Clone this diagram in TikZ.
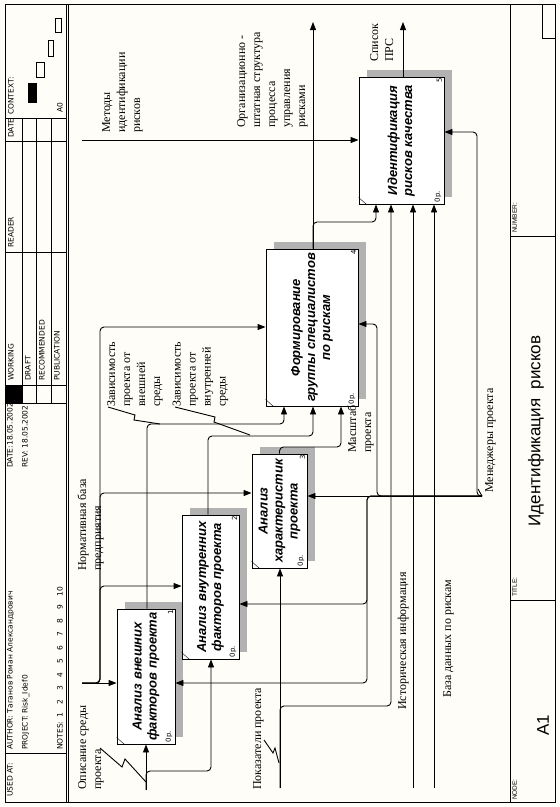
\documentclass[tikz,border=0pt]{standalone}
\usepackage{fontspec}
\setmainfont{Liberation Serif}
\newfontfamily\hdrfont{DejaVu Sans}
\newfontfamily\boxfont{Liberation Sans}
\usepackage{tikz}
\usetikzlibrary{arrows.meta,shadows}
\definecolor{Paper}{HTML}{FFFDF8}
\definecolor{Hatch}{HTML}{B2B2B2}
\newcommand{\rt}[2][l]{\rotatebox{90}{\begin{tabular}{@{}#1@{}}#2\end{tabular}}}
\newcommand{\gap}{\hspace{8.7pt}}

\begin{document}
\begin{tikzpicture}[x=1pt, y=-1pt,
  func/.style={draw, line width=0.9pt, fill=white, inner sep=0pt,
    font=\boxfont\bfseries\itshape\fontsize{13}{15}\selectfont,
    drop shadow={shadow xshift=8pt, shadow yshift=7pt, fill=Hatch, opacity=1}},
  tag/.style={inner sep=0pt, font=\hdrfont\fontsize{7}{8}\selectfont},
  lbl/.style={inner sep=0pt, anchor=south west, font=\fontsize{12}{15}\selectfont},
  hdr/.style={inner sep=0pt, anchor=south west, font=\hdrfont\fontsize{7.5}{9}\selectfont},
  cell/.style={inner sep=0pt, anchor=south west, font=\boxfont\fontsize{6.5}{8}\selectfont},
  arr/.style={-{Triangle[length=8pt,width=6pt]}, line width=0.9pt, rounded corners=4pt},
  sq/.style={line width=0.9pt}
]
\useasboundingbox (0,0) rectangle (560,807);
\fill[Paper] (0,0) rectangle (560,807);

% form frame
\draw[line width=1pt] (5,4) rectangle (555,802);
\draw[line width=1pt] (66,4) -- (66,802);
\draw[line width=1pt] (68,4) -- (68,802);
\draw[line width=1pt] (510,4) -- (510,802);
\draw (5,118) -- (66,118);
\draw (5,141) -- (66,141);
\draw (5,252) -- (66,252);
\draw (5,385) -- (66,385);
\draw (5,403) -- (66,403);
\draw (5,753) -- (66,753);
\draw (22,118) -- (22,403);
\draw (36,118) -- (36,403);
\draw (51,118) -- (51,403);
\fill (5,385) rectangle (22,403);
\fill (28,83) rectangle (37,103);
\draw (36,62) rectangle (44,77);
\draw (48,40) rectangle (53,56);
\draw (55,18) rectangle (61,32);
\draw (510,236) -- (555,236);
\draw (510,600) -- (555,600);
\draw (542,4) -- (542,38) -- (555,38);

\node[hdr] (hUsed) at (6,797) {\rt{USED AT:}};
\node[hdr] (hAuthor) at (6,750) {\rt{AUTHOR: Таганов Роман Александрович}};
\node[hdr] (hProject) at (21,750) {\rt{PROJECT: Risk\_Idef0}};
\node[hdr] (hNotes) at (56,750) {\rt{NOTES:\hspace{4pt}1\gap 2\gap 3\gap 4\gap 5\gap 6\gap 7\gap 8\gap 9\gap 10}};
\node[hdr] (hDate) at (6,468) {\rt{DATE:18.05.2002}};
\node[hdr] (hRev) at (21,468) {\rt{REV: 18.05.2002}};
\node[hdr] (hWork) at (7,381) {\rt{WORKING}};
\node[hdr] (hDraft) at (24,381) {\rt{DRAFT}};
\node[hdr] (hRec) at (38,381) {\rt{RECOMMENDED}};
\node[hdr] (hPub) at (53,381) {\rt{PUBLICATION}};
\node[hdr] (hReader) at (7,248) {\rt{READER}};
\node[hdr] (hDay) at (7,138) {\rt{DATE}};
\node[hdr] (hContext) at (7,115) {\rt{CONTEXT:}};
\node[hdr] (hA0) at (56,113) {\rt{A0}};

\node[cell] (cNode) at (511,800) {\rt{NODE:}};
\node[cell] (cTitle) at (511,597) {\rt{TITLE:}};
\node[cell] (cNumber) at (511,233) {\rt{NUMBER:}};
\node[inner sep=0pt, font=\boxfont\fontsize{17}{19}\selectfont] (tNode) at (543,725) {\rotatebox{90}{A1}};
\node[inner sep=0pt, font=\boxfont\fontsize{17}{19}\selectfont] (tTitle) at (536,431) {\rotatebox{90}{Идентификация\ \ рисков}};

% function boxes
\node[func, minimum width=58pt, minimum height=135pt] (b1) at (146,676.5) {\rt[c]{Анализ внешних\\факторов проекта}};
\node[func, minimum width=57pt, minimum height=144pt] (b2) at (210.5,587) {\rt[c]{Анализ внутренних\\факторов проекта}};
\node[func, minimum width=55pt, minimum height=114pt] (b3) at (279.5,511) {\rt[c]{Анализ\\характеристик\\проекта}};
\node[func, minimum width=92pt, minimum height=157pt] (b4) at (312,327.5) {\rt[c]{Формирование\\группы специалистов\\по рискам}};
\node[func, minimum width=85pt, minimum height=127pt] (b5) at (401.5,140.5) {\rt[c]{Идентификация\\рисков качества}};

\node[tag] (n1) at ([xshift=-5pt,yshift=-4pt]b1.north east) {\rotatebox{90}{1}};
\node[tag] (n2) at ([xshift=-5pt,yshift=-4pt]b2.north east) {\rotatebox{90}{2}};
\node[tag] (n3) at ([xshift=-5pt,yshift=-4pt]b3.north east) {\rotatebox{90}{3}};
\node[tag] (n4) at ([xshift=-5pt,yshift=-4pt]b4.north east) {\rotatebox{90}{4}};
\node[tag] (n5) at ([xshift=-5pt,yshift=-4pt]b5.north east) {\rotatebox{90}{5}};
\node[tag] (c1) at ([xshift=-6.5pt,yshift=8pt]b1.south east) {\rotatebox{90}{0р.}};
\node[tag] (c2) at ([xshift=-6.5pt,yshift=8pt]b2.south east) {\rotatebox{90}{0р.}};
\node[tag] (c3) at ([xshift=-6.5pt,yshift=8pt]b3.south east) {\rotatebox{90}{0р.}};
\node[tag] (c4) at ([xshift=-6.5pt,yshift=8pt]b4.south east) {\rotatebox{90}{0р.}};
\node[tag] (c5) at ([xshift=-6.5pt,yshift=8pt]b5.south east) {\rotatebox{90}{0р.}};
\draw ([yshift=7pt]b1.south west) -- ([xshift=8pt]b1.south west);
\draw ([yshift=7pt]b2.south west) -- ([xshift=8pt]b2.south west);
\draw ([yshift=7pt]b3.south west) -- ([xshift=8pt]b3.south west);
\draw ([yshift=7pt]b4.south west) -- ([xshift=8pt]b4.south west);
\draw ([yshift=7pt]b5.south west) -- ([xshift=8pt]b5.south west);

% arrow labels
\node[lbl] (lDesc) at (75.5,790) {\rt{Описание среды\\проекта}};
\node[lbl] (lNorm) at (75.5,571) {\rt{Нормативная база\\предприятия}};
\node[lbl] (lMet) at (99.5,133) {\rt{Методы\\идентификации\\рисков}};
\node[lbl] (lOrg) at (234.5,128) {\rt{Организационно -\\штатная структура\\процесса\\управления\\рисками}};
\node[lbl] (lList) at (367.5,62) {\rt{Список\\ПРС}};
\node[lbl] (lExt) at (104.5,407) {\rt{Зависимость\\проекта от\\внешней\\среды}};
\node[lbl] (lInt) at (170,407) {\rt{Зависимость\\проекта от\\внутренней\\среды}};
\node[lbl] (lScale) at (345.5,453) {\rt{Масштаб\\проекта}};
\node[lbl] (lPok) at (250.5,790) {\rt{Показатели проекта}};
\node[lbl] (lHist) at (395.5,710) {\rt{Историческая информация}};
\node[lbl] (lBase) at (440.5,698) {\rt{База данных по рискам}};
\node[lbl] (lMen) at (482.5,493) {\rt{Менеджеры проекта}};

% boundary ends
\coordinate (inDesc) at (146,790);
\coordinate (inPok) at (280,788);
\coordinate (inHist) at (413,788);
\coordinate (inBase) at (434,788);
\coordinate (ctlNorm) at (82,683);
\coordinate (ctlMet) at (82,140);
\coordinate (mechMen) at (482,496);
\coordinate (outOrg) at (313,22);
\coordinate (outList) at (403,22);

% inputs
\draw[arr] (inDesc) -- (inDesc |- b1.south);
\draw[arr] (inDesc) |- (211,771) -- (b2.south -| 211,0);
\draw[arr] (inPok) -- (inPok |- b3.south);
\draw[arr] (inPok) |- (391,706) -- (b5.south -| 391,0);
\draw[arr] (inHist) -- (inHist |- b5.south);
\draw[arr] (inBase) -- (inBase |- b5.south);
% controls
\draw[arr] (ctlNorm) -- (ctlNorm -| b1.west);
\draw[arr] (ctlNorm) -| (100,586) -- (b2.west |- 0,586);
\draw[arr] (ctlNorm) -| (100,493) -- (b3.west |- 0,493);
\draw[arr] (ctlNorm) -| (100,327) -- (b4.west |- 0,327);
\draw[arr] (ctlMet) -- (ctlMet -| b5.west);
% outputs
\draw[arr] (b1.north -| 147,0) |- (284,424) -- (b4.south -| 284,0);
\draw[arr] (b2.north -| 208,0) |- (313,436) -- (b4.south -| 313,0);
\draw[arr] (b3.north) |- (341,447) -- (b4.south -| 341,0);
\draw[arr] (b4.north -| outOrg) -- (outOrg);
\draw[arr] (b4.north -| outOrg) |- (376,222) -- (b5.south -| 376,0);
\draw[arr] (b5.north -| outList) -- (outList);
% mechanisms
\draw[arr] (mechMen) -- (mechMen -| b3.east);
\draw[arr] (mechMen) -| (477,132) -- (b5.east |- 0,132);
\draw[arr] (mechMen) -| (377,324) -- (b4.east |- 0,324);
\draw[arr] (mechMen) -| (367,604) -- (b2.east |- 0,604);
\draw[arr] (mechMen) -| (367,683) -- (b1.east |- 0,683);

% label leaders
\coordinate (sqDesc) at (100,748);
\draw[sq] (sqDesc) -- ++(22,19) -- ++(3,-8) -- ++(21,23);
\coordinate (sqPok) at (264,740);
\draw[sq] (sqPok) -- ++(9,13) -- ++(2,-5) -- ++(4,15);
\coordinate (sqExt) at (108,407);
\draw[sq] (sqExt) -- ++(27,8) -- ++(-1,5) -- ++(26,4);
\coordinate (sqInt) at (175,407);
\draw[sq] (sqInt) -- ++(40,10) -- ++(-1,5) -- ++(36,13);
\draw[sq] (mechMen) -- ++(-4,-7);
\end{tikzpicture}
\end{document}
